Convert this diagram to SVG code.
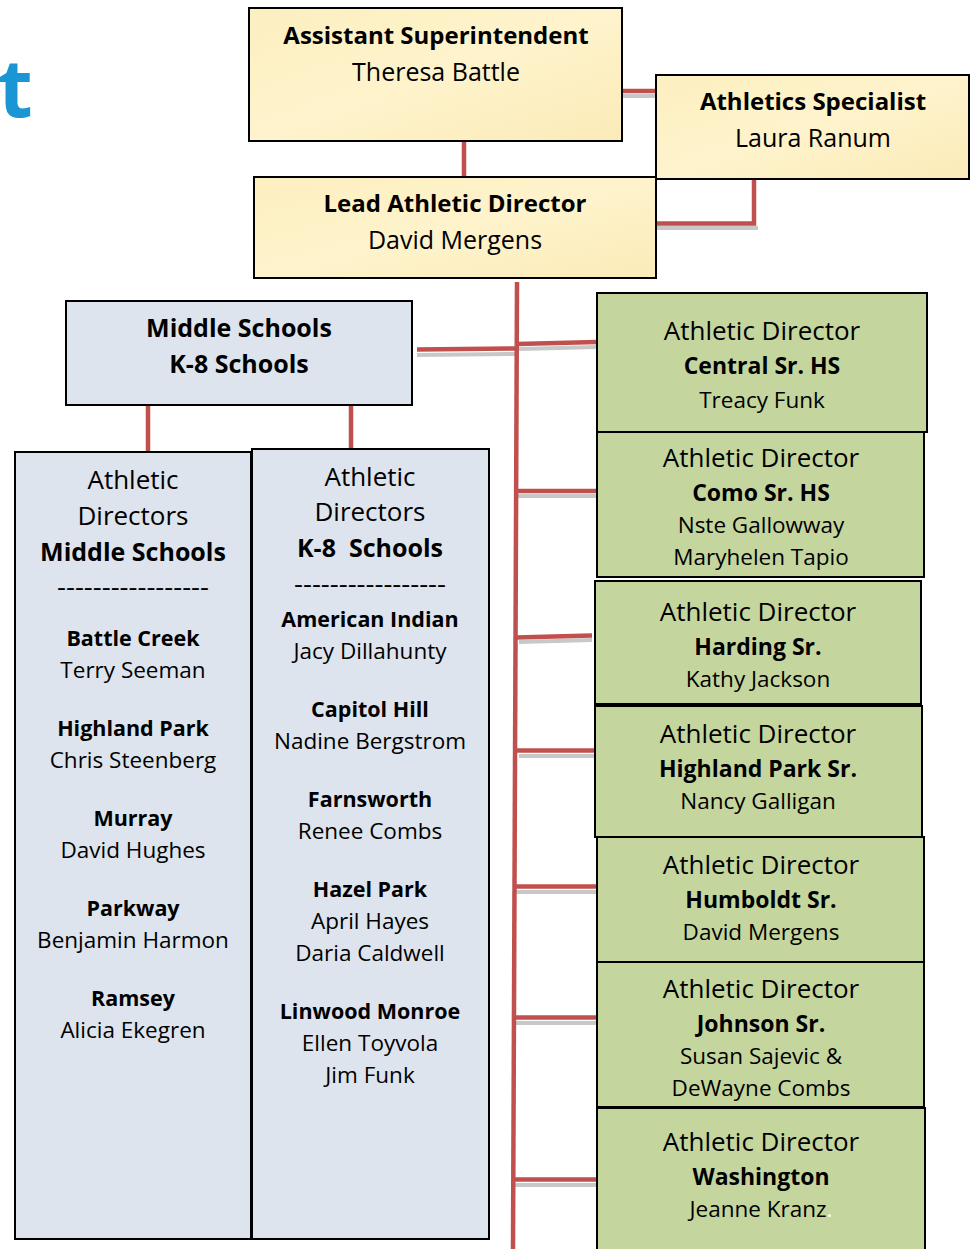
<svg xmlns="http://www.w3.org/2000/svg" width="974" height="1249" viewBox="0 0 974 1249">
<defs>
<linearGradient id="yel" x1="0" y1="0" x2="1" y2="1">
<stop offset="0" stop-color="#FCEFC0"/><stop offset="0.5" stop-color="#FEF3CC"/><stop offset="1" stop-color="#FBEBB8"/>
</linearGradient>
<style>
text{font-family:"Open Sans","Noto Sans","Liberation Sans",sans-serif;fill:#000;text-anchor:middle}
.yb{font-weight:bold;font-size:24px}
.yr{font-size:25px}
.gt{font-size:26px}
.gb{font-weight:bold;font-size:23px}
.gn{font-size:22.5px}
.ch{font-size:26px}
.chb{font-weight:bold;font-size:25px}
.cs{font-weight:bold;font-size:21.5px}
.cn{font-size:22.5px}
.box{stroke:#000;stroke-width:2}
.yel{fill:url(#yel)}
.blu{fill:#DDE4ED}
.grn{fill:#C4D69E}
.ln{stroke:#C0504D;stroke-width:4.5;fill:none}
.sh{stroke:#C8C8C8;stroke-width:4;fill:none}
</style>
</defs>
<rect width="974" height="1249" fill="#fff"/>
<text x="-2" y="117" style="font-size:80px;font-weight:bold;fill:#1A96D4;text-anchor:start">t</text>

<g id="connectors">
<g class="sh">
<line x1="623" y1="96" x2="656" y2="96"/>
<line x1="656" y1="228" x2="758" y2="228"/>
<line x1="417" y1="355" x2="516" y2="354"/>
<line x1="519" y1="349" x2="597" y2="347"/>
<line x1="518" y1="496" x2="597" y2="496"/>
<line x1="519" y1="642" x2="592" y2="640"/>
<line x1="519" y1="756" x2="597" y2="756"/>
<line x1="516" y1="892" x2="597" y2="892"/>
<line x1="516" y1="1023" x2="597" y2="1023"/>
<line x1="515" y1="1185" x2="597" y2="1185"/>
</g>
<g class="ln">
<line x1="623" y1="91" x2="656" y2="91"/>
<line x1="464" y1="141" x2="464" y2="177"/>
<polyline points="656,223.5 754,223.5 754,179"/>
<line x1="517" y1="282" x2="513" y2="1249"/>
<line x1="417" y1="349.5" x2="517" y2="348.5"/>
<line x1="517" y1="344" x2="597" y2="342"/>
<line x1="516" y1="491" x2="597" y2="491"/>
<line x1="516" y1="637.5" x2="592" y2="635.5"/>
<line x1="516" y1="750.5" x2="597" y2="750.5"/>
<line x1="515" y1="886.5" x2="597" y2="886.5"/>
<line x1="515" y1="1017.5" x2="597" y2="1017.5"/>
<line x1="514" y1="1179.5" x2="597" y2="1179.5"/>
<line x1="148" y1="406" x2="148" y2="452"/>
<line x1="351" y1="406" x2="351" y2="449"/>
</g>
</g>

<g id="asst-superintendent">
<rect class="box yel" x="249" y="8" width="373" height="133"/>
<text class="yb" x="436" y="44">Assistant Superintendent</text>
<text class="yr" x="436" y="81">Theresa Battle</text>
</g>
<g id="athletics-specialist">
<rect class="box yel" x="656" y="75" width="313" height="104"/>
<text class="yb" x="813" y="110">Athletics Specialist</text>
<text class="yr" x="813" y="147">Laura Ranum</text>
</g>
<g id="lead-ad">
<rect class="box yel" x="254" y="177" width="402" height="101"/>
<text class="yb" x="455" y="212">Lead Athletic Director</text>
<text class="yr" x="455" y="249">David Mergens</text>
</g>
<g id="middle-k8">
<rect class="box blu" x="66" y="301" width="346" height="104"/>
<text class="chb" x="239" y="337">Middle Schools</text>
<text class="chb" x="239" y="373">K-8 Schools</text>
</g>

<g id="col-middle">
<rect class="box blu" x="15" y="452" width="236" height="787"/>
<text class="ch" x="133" y="489">Athletic</text>
<text class="ch" x="133" y="525">Directors</text>
<text class="chb" x="133" y="561">Middle Schools</text>
<text class="ch" x="133" y="596" textLength="152" lengthAdjust="spacingAndGlyphs">-----------------</text>
<text class="cs" x="133" y="646">Battle Creek</text>
<text class="cn" x="133" y="678">Terry Seeman</text>
<text class="cs" x="133" y="736">Highland Park</text>
<text class="cn" x="133" y="768">Chris Steenberg</text>
<text class="cs" x="133" y="826">Murray</text>
<text class="cn" x="133" y="858">David Hughes</text>
<text class="cs" x="133" y="916">Parkway</text>
<text class="cn" x="133" y="948">Benjamin Harmon</text>
<text class="cs" x="133" y="1006">Ramsey</text>
<text class="cn" x="133" y="1038">Alicia Ekegren</text>
</g>

<g id="col-k8">
<rect class="box blu" x="252" y="449" width="237" height="790"/>
<text class="ch" x="370" y="486">Athletic</text>
<text class="ch" x="370" y="521">Directors</text>
<text class="chb" x="370" y="557" style="white-space:pre">K-8  Schools</text>
<text class="ch" x="370" y="593" textLength="152" lengthAdjust="spacingAndGlyphs">-----------------</text>
<text class="cs" x="370" y="627">American Indian</text>
<text class="cn" x="370" y="659">Jacy Dillahunty</text>
<text class="cs" x="370" y="717">Capitol Hill</text>
<text class="cn" x="370" y="749">Nadine Bergstrom</text>
<text class="cs" x="370" y="807">Farnsworth</text>
<text class="cn" x="370" y="839">Renee Combs</text>
<text class="cs" x="370" y="897">Hazel Park</text>
<text class="cn" x="370" y="929">April Hayes</text>
<text class="cn" x="370" y="961">Daria Caldwell</text>
<text class="cs" x="370" y="1019">Linwood Monroe</text>
<text class="cn" x="370" y="1051">Ellen Toyvola</text>
<text class="cn" x="370" y="1083">Jim Funk</text>
</g>

<g id="central">
<rect class="box grn" x="597" y="293" width="330" height="139"/>
<text class="gt" x="762" y="340">Athletic Director</text>
<text class="gb" x="762" y="374">Central Sr. HS</text>
<text class="gn" x="762" y="408">Treacy Funk</text>
</g>
<g id="como">
<rect class="box grn" x="597" y="432" width="327" height="145"/>
<text class="gt" x="761" y="467">Athletic Director</text>
<text class="gb" x="761" y="501">Como Sr. HS</text>
<text class="gn" x="761" y="533">Nste Gallowway</text>
<text class="gn" x="761" y="565">Maryhelen Tapio</text>
</g>
<g id="harding">
<rect class="box grn" x="595" y="581" width="326" height="123"/>
<text class="gt" x="758" y="621">Athletic Director</text>
<text class="gb" x="758" y="655">Harding Sr.</text>
<text class="gn" x="758" y="687">Kathy Jackson</text>
</g>
<g id="highland">
<rect class="box grn" x="595" y="706" width="327" height="131"/>
<text class="gt" x="758" y="743">Athletic Director</text>
<text class="gb" x="758" y="777">Highland Park Sr.</text>
<text class="gn" x="758" y="809">Nancy Galligan</text>
</g>
<g id="humboldt">
<rect class="box grn" x="597" y="837" width="327" height="125"/>
<text class="gt" x="761" y="874">Athletic Director</text>
<text class="gb" x="761" y="908">Humboldt Sr.</text>
<text class="gn" x="761" y="940">David Mergens</text>
</g>
<g id="johnson">
<rect class="box grn" x="597" y="962" width="327" height="145"/>
<text class="gt" x="761" y="998">Athletic Director</text>
<text class="gb" x="761" y="1032">Johnson Sr.</text>
<text class="gn" x="761" y="1064">Susan Sajevic &amp;</text>
<text class="gn" x="761" y="1096">DeWayne Combs</text>
</g>
<g id="washington">
<rect class="box grn" x="597" y="1108" width="328" height="150"/>
<text class="gt" x="761" y="1151">Athletic Director</text>
<text class="gb" x="761" y="1185">Washington</text>
<text class="gn" x="761" y="1217">Jeanne Kranz<tspan fill="#fff">.</tspan></text>
</g>
</svg>
